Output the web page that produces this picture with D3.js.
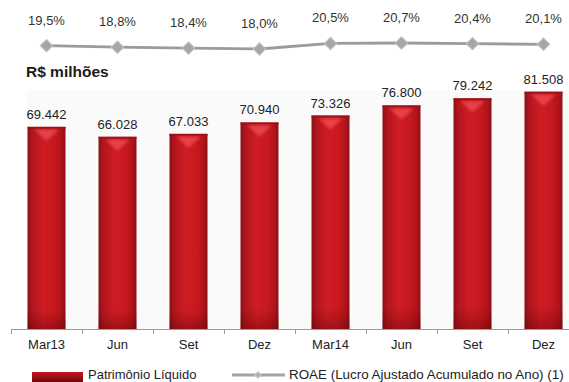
<!DOCTYPE html>
<html>
<head>
<meta charset="utf-8">
<script src="https://cdn.jsdelivr.net/npm/d3@7"></script>
<style>
  html, body { margin: 0; padding: 0; background: #ffffff; }
  svg { display: block; }
  text { font-family: "Liberation Sans", Arial, sans-serif; }
</style>
</head>
<body>
<svg id="chart" width="569" height="382"></svg>
<script>
// Quarter keys and the labels shown under each bar
const periods = ["Mar13", "Jun13", "Set13", "Dez13", "Mar14", "Jun14", "Set14", "Dez14"];
const periodLabels = ["Mar13", "Jun", "Set", "Dez", "Mar14", "Jun", "Set", "Dez"];

// Patrimônio Líquido, R$ milhões
const equity = [69442, 66028, 67033, 70940, 73326, 76800, 79242, 81508];

// ROAE (%), adjusted accumulated profit in the year
const roae = [19.5, 18.8, 18.4, 18.0, 20.5, 20.7, 20.4, 20.1];

const legendLabels = ["Patrimônio Líquido", "ROAE (Lucro Ajustado Acumulado no Ano) (1)"];

const svg = d3.select("#chart");
const W = 569, H = 382;
const axisY = 329;

const x = d3.scaleBand()
  .domain(periods)
  .range([11, 579])
  .paddingInner(0.465)
  .paddingOuter(0.2325);

const y = d3.scaleLinear().domain([0, 90000]).range([axisY, 67]);
const yR = d3.scaleLinear().domain([17, 22]).range([51.2, 40.1]);

const fmtBR = d3.formatLocale({ decimal: ",", thousands: ".", grouping: [3], currency: ["R$", ""] });
const fmtValue = fmtBR.format(",d");
const fmtPct = fmtBR.format(".1f");

// ---- gradients and filters
const defs = svg.append("defs");
const barGrad = defs.append("linearGradient").attr("id", "barGrad")
  .attr("x1", "0").attr("x2", "1").attr("y1", "0").attr("y2", "0");
[[0, "#8a0f15"], [0.12, "#b1161d"], [0.42, "#cf1c24"], [0.7, "#c8191f"], [0.9, "#b0141a"], [1, "#8c1016"]]
  .forEach(([o, c]) => barGrad.append("stop").attr("offset", o).attr("stop-color", c));

const shadeGrad = defs.append("linearGradient").attr("id", "shadeGrad")
  .attr("x1", "0").attr("x2", "0").attr("y1", "0").attr("y2", "1");
[[0, "rgba(90,0,0,0)"], [0.9, "rgba(90,0,0,0)"], [1, "rgba(70,0,0,0.35)"]]
  .forEach(([o, c]) => shadeGrad.append("stop").attr("offset", o).attr("stop-color", c));

const legendGrad = defs.append("linearGradient").attr("id", "legendGrad")
  .attr("x1", "0").attr("x2", "0").attr("y1", "0").attr("y2", "1");
[[0, "#c4161f"], [0.5, "#9e0f16"], [1, "#6e080c"]]
  .forEach(([o, c]) => legendGrad.append("stop").attr("offset", o).attr("stop-color", c));

defs.append("filter").attr("id", "soft")
  .append("feGaussianBlur").attr("stdDeviation", 1.6);

// ---- faint plot background
svg.append("rect")
  .attr("x", 27).attr("y", 90).attr("width", W - 27).attr("height", axisY - 90)
  .attr("fill", "#fafafa");

// ---- bars
const bars = svg.append("g").selectAll("g").data(periods).join("g");
bars.append("rect")
  .attr("x", d => x(d))
  .attr("y", (d, i) => y(equity[i]))
  .attr("width", x.bandwidth())
  .attr("height", (d, i) => axisY - y(equity[i]))
  .attr("fill", "url(#barGrad)");
bars.append("rect")
  .attr("x", d => x(d))
  .attr("y", (d, i) => y(equity[i]))
  .attr("width", x.bandwidth())
  .attr("height", (d, i) => axisY - y(equity[i]))
  .attr("fill", "url(#shadeGrad)");
// top rim
bars.append("rect")
  .attr("x", d => x(d))
  .attr("y", (d, i) => y(equity[i]))
  .attr("width", x.bandwidth())
  .attr("height", 2)
  .attr("fill", "#9c1218");
// highlight wedge under the top rim
bars.append("path")
  .attr("d", (d, i) => {
    const cx = x(d) + x.bandwidth() / 2, t = y(equity[i]);
    return `M${cx - 12},${t + 3} L${cx + 12},${t + 3} L${cx},${t + 14} Z`;
  })
  .attr("fill", "#ec4a50")
  .attr("opacity", 0.85)
  .attr("filter", "url(#soft)");

// value labels
svg.append("g").selectAll("text").data(periods).join("text")
  .attr("x", d => x(d) + x.bandwidth() / 2)
  .attr("y", (d, i) => y(equity[i]) - 8)
  .attr("text-anchor", "middle")
  .attr("font-size", 13)
  .attr("fill", "#222")
  .text((d, i) => fmtValue(equity[i]));

// ---- category axis
const axis = d3.axisBottom(x).tickSize(0).tickPadding(11)
  .tickFormat((d, i) => periodLabels[i]);
const ax = svg.append("g").attr("transform", `translate(0,${axisY})`).call(axis);
ax.select(".domain").remove();
ax.selectAll("text").attr("font-size", 13).attr("fill", "#222")
  .attr("font-family", "'Liberation Sans', Arial, sans-serif");
svg.append("line")
  .attr("x1", x.range()[0]).attr("x2", W)
  .attr("y1", axisY + 0.5).attr("y2", axisY + 0.5)
  .attr("stroke", "#9a9a9a").attr("stroke-width", 1);
const edges = periods.map(d => x(d) - (x.step() - x.bandwidth()) / 2);
svg.append("g").selectAll("line").data(edges).join("line")
  .attr("x1", d => d + 0.5).attr("x2", d => d + 0.5)
  .attr("y1", axisY).attr("y2", axisY + 5)
  .attr("stroke", "#9a9a9a");

// ---- unit title
svg.append("text")
  .attr("x", 26).attr("y", 77)
  .attr("font-size", 15.5).attr("font-weight", "bold").attr("fill", "#1a1a1a")
  .text("R$ milhões");

// ---- ROAE line
const cxOf = d => x(d) + x.bandwidth() / 2;
svg.append("path")
  .datum(periods)
  .attr("d", d3.line().x(cxOf).y((d, i) => yR(roae[i])))
  .attr("fill", "none")
  .attr("stroke", "#9b9b9b")
  .attr("stroke-width", 2.8);
const diamond = d3.symbol().type(d3.symbolSquare).size(78);
svg.append("g").selectAll("path").data(periods).join("path")
  .attr("d", diamond)
  .attr("transform", (d, i) => `translate(${cxOf(d)},${yR(roae[i])}) rotate(45)`)
  .attr("fill", "#a6a6a6")
  .attr("stroke", "#c2c2c2")
  .attr("stroke-width", 1);
svg.append("g").selectAll("text").data(periods).join("text")
  .attr("x", cxOf)
  .attr("y", (d, i) => yR(roae[i]) - 21)
  .attr("text-anchor", "middle")
  .attr("font-size", 13)
  .attr("fill", "#333")
  .text((d, i) => fmtPct(roae[i]) + "%");

// ---- legend
const lg = svg.append("g");
lg.append("rect").attr("x", 32).attr("y", 372).attr("width", 51).attr("height", 10)
  .attr("fill", "url(#legendGrad)");
lg.append("text").attr("x", 88).attr("y", 378.5).attr("font-size", 13).attr("fill", "#222")
  .text(legendLabels[0]);
lg.append("line").attr("x1", 232).attr("x2", 285).attr("y1", 375).attr("y2", 375)
  .attr("stroke", "#a3a3a3").attr("stroke-width", 3);
lg.append("path").attr("d", d3.symbol().type(d3.symbolSquare).size(22))
  .attr("transform", "translate(258,375) rotate(45)")
  .attr("fill", "#b0b0b0").attr("stroke", "#c8c8c8");
lg.append("text").attr("x", 289).attr("y", 378.5).attr("font-size", 13.4).attr("fill", "#222")
  .text(legendLabels[1]);
</script>
</body>
</html>
